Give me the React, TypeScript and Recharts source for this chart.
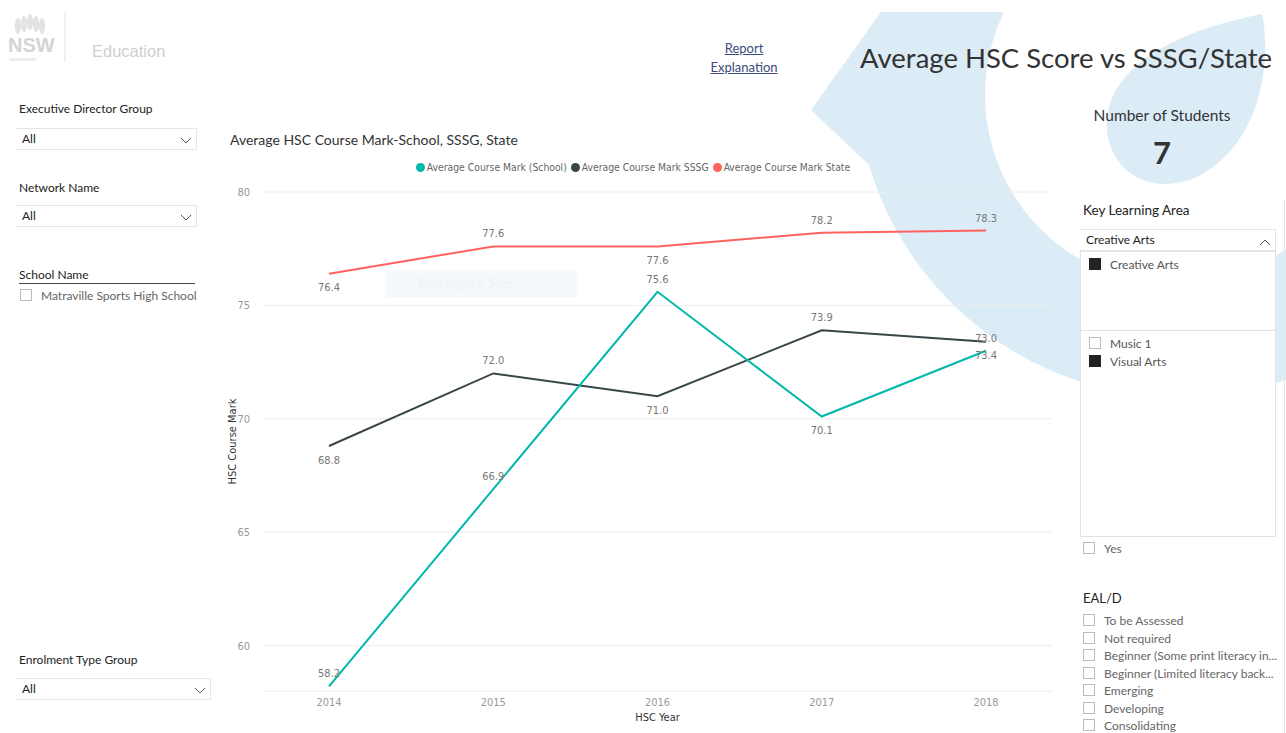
import React from 'react';
import { LineChart, Line, XAxis, YAxis, CartesianGrid } from 'recharts';

const years = ['2014', '2015', '2016', '2017', '2018'];
const schoolMarks = [58.2, 66.9, 75.6, 70.1, 73.0];
const sssgMarks = [68.8, 72.0, 71.0, 73.9, 73.4];
const stateMarks = [76.4, 77.6, 77.6, 78.2, 78.3];
const yTicks = [60, 65, 70, 75, 80];

// where Power BI put each data label
const schoolLabelSide = ['above', 'above', 'above', 'below', 'above'];
const sssgLabelSide = ['below', 'above', 'below', 'above', 'below'];
const stateLabelSide = ['below', 'above', 'below', 'above', 'above'];

const eduLevels = [
  'To be Assessed',
  'Not required',
  'Beginner (Some print literacy in...',
  'Beginner (Limited literacy back...',
  'Emerging',
  'Developing',
  'Consolidating',
];

const data = years.map((year, i) => ({
  year,
  school: schoolMarks[i],
  sssg: sssgMarks[i],
  state: stateMarks[i],
}));

const COLORS = { school: '#01B8AA', sssg: '#374649', state: '#FD625E' };
const chartFont = "'DejaVu Sans Condensed', 'Liberation Sans Narrow', sans-serif";
const uiFont = "Lato, 'Open Sans', sans-serif";

const makeLabel = (sides: string[]) => (props: any) => {
  const { x, y, value, index } = props;
  const dy = sides[index] === 'above' ? -12.5 : 14;
  return (
    <text
      x={x}
      y={y + dy}
      textAnchor="middle"
      dominantBaseline="central"
      fill="#777"
      fontSize={11}
      fontFamily={chartFont}
    >
      {Number(value).toFixed(1)}
    </text>
  );
};

const YLabel = (props: any) => {
  const { x, y, height } = props.viewBox;
  const cx = x + 32;
  const cy = y + height / 2;
  return (
    <text
      x={cx}
      y={cy}
      transform={`rotate(-90, ${cx}, ${cy})`}
      textAnchor="middle"
      dominantBaseline="central"
      fill="#333"
      fontSize={11}
      fontFamily={chartFont}
    >
      HSC Course Mark
    </text>
  );
};

const XLabel = (props: any) => {
  const { x, y, width } = props.viewBox;
  return (
    <text
      x={x + width / 2}
      y={y + 26}
      textAnchor="middle"
      dominantBaseline="central"
      fill="#333"
      fontSize={11}
      fontFamily={chartFont}
    >
      HSC Year
    </text>
  );
};

const Chevron = ({ up = false }: { up?: boolean }) => (
  <svg width={12} height={8} style={{ position: 'absolute', right: 4, top: 8 }}>
    <polyline
      points={up ? '1,7 6,2 11,7' : '1,1 6,6 11,1'}
      fill="none"
      stroke="#555"
      strokeWidth={1}
    />
  </svg>
);

const Dropdown = ({ left, top, width, text, up = false }: any) => (
  <div
    style={{
      position: 'absolute',
      left,
      top,
      width,
      height: 22,
      borderTop: '1px solid #e6e6e6',
      borderBottom: '1px solid #e6e6e6',
      borderRight: '1px solid #e6e6e6',
      background: '#fff',
      boxSizing: 'border-box',
      fontSize: 12,
      color: '#222',
      lineHeight: '20px',
      paddingLeft: 6,
    }}
  >
    {text}
    <Chevron up={up} />
  </div>
);

const Check = ({ filled = false }: { filled?: boolean }) => (
  <span
    style={{
      display: 'inline-block',
      width: 10,
      height: 10,
      border: filled ? '1px solid #222' : '1px solid #bbb',
      background: filled ? '#222' : '#fff',
      marginRight: 9,
      verticalAlign: -1,
    }}
  />
);

const abs = (left: number, top: number, extra: any = {}) => ({
  position: 'absolute' as const,
  left,
  top,
  whiteSpace: 'nowrap' as const,
  ...extra,
});

export default function App() {
  return (
    <div
      style={{
        position: 'absolute',
        left: 0,
        top: 0,
        width: 1286,
        height: 733,
        overflow: 'hidden',
        background: '#fff',
        fontFamily: uiFont,
      }}
    >
      {/* background artwork */}
      <svg width={1286} height={733} style={{ position: 'absolute', left: 0, top: 0 }}>
        <path
          d="M 881 12 L 1004 12 A 190 190 0 0 0 1286 249 L 1286 380 A 325 325 0 0 1 869 165 L 811 110 Z"
          fill="#dcecf7"
        />
        <path
          d="M 1262 14 C 1272 60, 1262 150, 1190 180 C 1130 198, 1100 150, 1108 112 C 1118 62, 1180 30, 1262 14 Z"
          fill="#dcecf7"
        />
      </svg>

      {/* logo */}
      <svg width={70} height={60} style={{ position: 'absolute', left: 6, top: 8 }}>
        {[0, 1, 2, 3, 4].map((i) => (
          <ellipse
            key={i}
            cx={12 + i * 6}
            cy={14 + Math.abs(i - 2) * 2}
            rx={3}
            ry={8}
            fill="#e2e2e2"
          />
        ))}
        <text x={2} y={44} fontSize={20} fontWeight="bold" fill="#d4d4d4" fontFamily="Arial, sans-serif">
          NSW
        </text>
        <text x={3} y={53} fontSize={4} fill="#d4d4d4">GOVERNMENT</text>
        <line x1={59} y1={4} x2={59} y2={54} stroke="#e2e2e2" />
      </svg>
      <div style={abs(92, 42, { fontSize: 16.5, color: '#cfcfcf', fontFamily: 'Arial, sans-serif' })}>Education</div>

      {/* left slicers */}
      <div style={abs(19, 101, { fontSize: 12, color: '#222' })}>Executive Director Group</div>
      <Dropdown left={16} top={128} width={181} text="All" />
      <div style={abs(19, 180, { fontSize: 12, color: '#222' })}>Network Name</div>
      <Dropdown left={16} top={205} width={181} text="All" />
      <div
        style={abs(19, 267, {
          fontSize: 12,
          color: '#222',
          width: 176,
          borderBottom: '1px solid #444',
          paddingBottom: 1,
        })}
      >
        School Name
      </div>
      <div style={abs(20, 288, { fontSize: 12, color: '#666' })}>
        <Check />
        Matraville Sports High School
      </div>
      <div style={abs(19, 652, { fontSize: 12, color: '#222' })}>Enrolment Type Group</div>
      <Dropdown left={16} top={678} width={195} text="All" />

      {/* header */}
      <div
        style={abs(700, 39, {
          width: 88,
          textAlign: 'center',
          fontSize: 13,
          lineHeight: '19px',
          color: '#3c4c7c',
          textDecoration: 'underline',
        })}
      >
        Report
        <br />
        Explanation
      </div>
      <div style={abs(860, 41, { fontSize: 27.5, color: '#333' })}>Average HSC Score vs SSSG/State</div>

      {/* chart title & legend */}
      <div style={abs(230, 131, { fontSize: 14, color: '#333' })}>Average HSC Course Mark-School, SSSG, State</div>
      <div
        style={abs(200, 161, {
          width: 870,
          display: 'flex',
          justifyContent: 'center',
          fontSize: 10.3,
          color: '#666',
          fontFamily: chartFont,
        })}
      >
        {[
          ['Average Course Mark (School)', COLORS.school],
          ['Average Course Mark SSSG', COLORS.sssg],
          ['Average Course Mark State', COLORS.state],
        ].map(([name, color]) => (
          <span key={name} style={{ display: 'flex', alignItems: 'center', marginRight: 4 }}>
            <span
              style={{
                width: 9,
                height: 9,
                borderRadius: '50%',
                background: color,
                display: 'inline-block',
                marginRight: 2,
              }}
            />
            {name}
          </span>
        ))}
      </div>

      {/* faint snip overlay */}
      <div
        style={abs(385, 270, {
          width: 192,
          height: 27,
          background: 'rgba(225,238,250,0.35)',
          color: '#edf2f8',
          fontSize: 13,
          lineHeight: '27px',
          paddingLeft: 33,
          boxSizing: 'border-box',
        })}
      >
        Rectangular Snip
      </div>

      <div style={{ position: 'absolute', left: 200, top: 150 }}>
        <LineChart width={870} height={580} data={data} margin={{ top: 42, right: 18, left: 0, bottom: 0 }}>
          <CartesianGrid vertical={false} stroke="#ededed" />
          <XAxis
            dataKey="year"
            axisLine={false}
            tickLine={false}
            tickSize={0}
            tickMargin={7}
            height={39}
            padding={{ left: 66, right: 66 }}
            tick={{ fill: '#999', fontSize: 11, fontFamily: chartFont }}
            label={<XLabel />}
          />
          <YAxis
            domain={[58, 80]}
            ticks={yTicks}
            width={63}
            axisLine={false}
            tickLine={false}
            tickSize={0}
            tickMargin={13}
            tick={{ fill: '#999', fontSize: 11, fontFamily: chartFont }}
            label={<YLabel />}
          />
          <Line
            dataKey="state"
            stroke={COLORS.state}
            strokeWidth={2}
            dot={false}
            isAnimationActive={false}
            label={makeLabel(stateLabelSide)}
          />
          <Line
            dataKey="sssg"
            stroke={COLORS.sssg}
            strokeWidth={2}
            dot={false}
            isAnimationActive={false}
            label={makeLabel(sssgLabelSide)}
          />
          <Line
            dataKey="school"
            stroke={COLORS.school}
            strokeWidth={2}
            dot={false}
            isAnimationActive={false}
            label={makeLabel(schoolLabelSide)}
          />
        </LineChart>
      </div>

      {/* right panel */}
      <div style={abs(1062, 106, { width: 200, textAlign: 'center', fontSize: 15.5, color: '#333' })}>
        Number of Students
      </div>
      <div style={abs(1062, 133, { width: 200, textAlign: 'center', fontSize: 31, fontWeight: 'bold', color: '#333' })}>
        7
      </div>
      <div style={abs(1083, 202, { fontSize: 13.5, color: '#222' })}>Key Learning Area</div>
      <Dropdown left={1080} top={229} width={196} text="Creative Arts" up />
      <div
        style={abs(1080, 251, {
          width: 196,
          height: 286,
          border: '1px solid #e2e2e2',
          background: '#fff',
          boxSizing: 'border-box',
          fontSize: 12,
          color: '#555',
        })}
      >
        <div style={abs(8, 5)}>
          <Check filled />
          Creative Arts
        </div>
        <div style={{ position: 'absolute', left: 0, right: 0, top: 78, borderTop: '1px solid #e2e2e2' }} />
        <div style={abs(8, 84)}>
          <Check />
          Music 1
        </div>
        <div style={abs(8, 102)}>
          <Check filled />
          Visual Arts
        </div>
      </div>
      <div style={abs(1083, 541, { fontSize: 12, color: '#666' })}>
        <Check />
        Yes
      </div>
      <div style={abs(1083, 590, { fontSize: 13, color: '#222' })}>EAL/D</div>
      {eduLevels.map((name, i) => (
        <div key={name} style={abs(1083, 613 + i * 17.5, { fontSize: 12, color: '#666' })}>
          <Check />
          {name}
        </div>
      ))}
      <div style={abs(1284, 200, { width: 1, height: 533, background: '#e6e6e6' })} />
    </div>
  );
}
